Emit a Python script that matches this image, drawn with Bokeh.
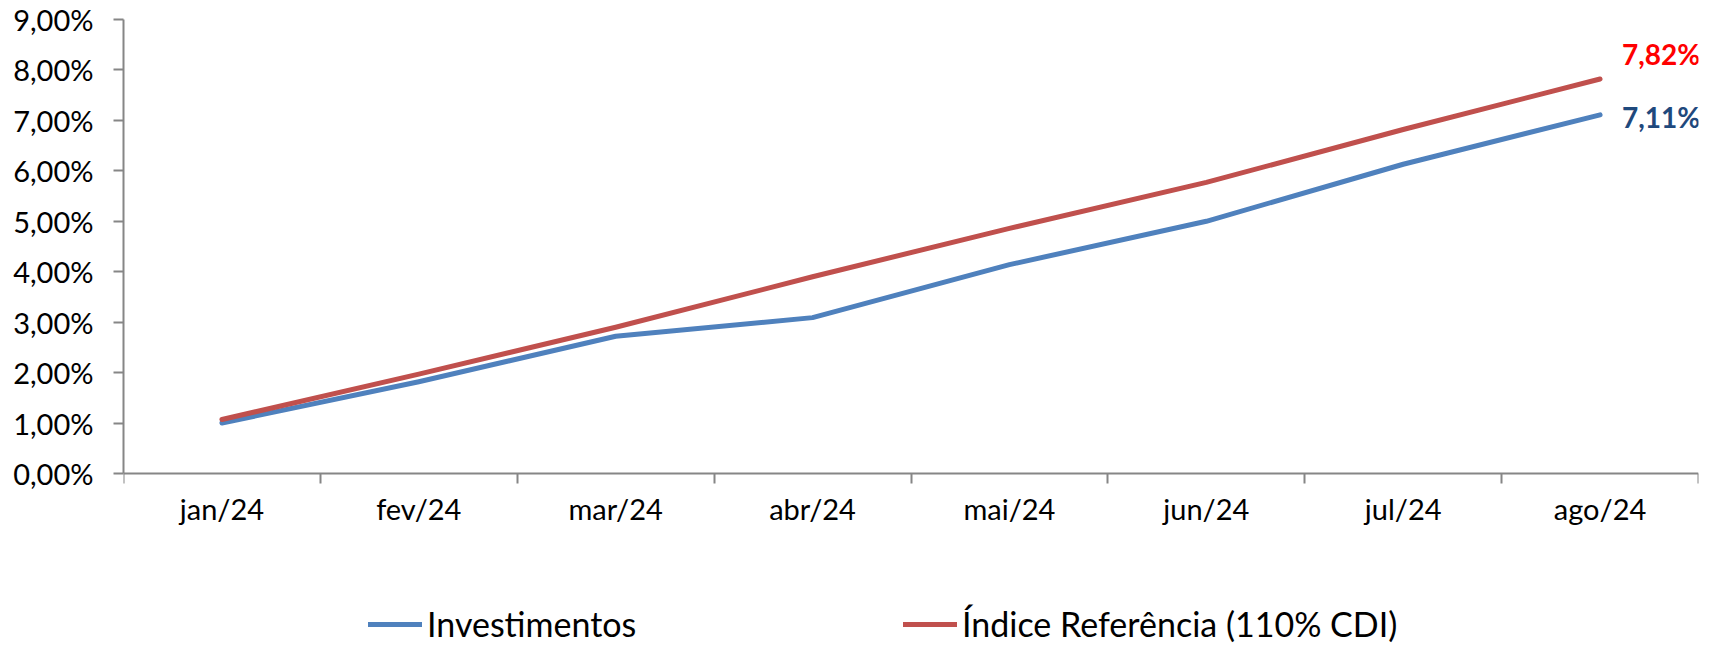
from bokeh.plotting import figure
from bokeh.models import (ColumnDataSource, FixedTicker, CustomJSTickFormatter, Range1d,
                          Legend, LegendItem, LabelSet)
from bokeh.core.properties import value
from bokeh.embed import file_html
from bokeh.resources import INLINE

months = ["jan/24", "fev/24", "mar/24", "abr/24", "mai/24", "jun/24", "jul/24", "ago/24"]
investimentos = [0.0100, 0.0182, 0.0272, 0.0309, 0.0414, 0.0500, 0.0613, 0.0711]
indice_ref = [0.0107, 0.0197, 0.0290, 0.0390, 0.0486, 0.0577, 0.0682, 0.0782]
y_ticks = [0.00, 0.01, 0.02, 0.03, 0.04, 0.05, 0.06, 0.07, 0.08, 0.09]
series_names = ["Investimentos", "Índice Referência (110% CDI)"]

BLUE = "#4F81BD"
RED = "#C0504D"
AXIS = "#868686"
FONT = "Lato"

W, H = 1723, 645
TOP, BOTTOM_AXIS, LEFT, RIGHT_PAD = 19, 473, 123, 25
# frame reaches the canvas bottom so the legend can sit inside it (layout only)
y_per_px = (y_ticks[-1] - y_ticks[0]) / (BOTTOM_AXIS - TOP)
y_start = y_ticks[0] - (H - BOTTOM_AXIS) * y_per_px

xs = [i + 0.5 for i in range(len(months))]
src = ColumnDataSource(dict(x=xs, inv=investimentos, ref=indice_ref))

p = figure(width=W, height=H, output_backend="svg", toolbar_location=None,
           x_range=Range1d(0, len(months)), y_range=Range1d(y_start, y_ticks[-1]),
           min_border_left=LEFT, min_border_right=RIGHT_PAD, min_border_top=TOP,
           min_border_bottom=0)
p.outline_line_color = None
p.grid.visible = False
p.background_fill_color = "white"
p.border_fill_color = "white"

r_inv = p.line("x", "inv", source=src, line_color=BLUE, line_width=5, line_cap="round", line_join="round")
r_ref = p.line("x", "ref", source=src, line_color=RED, line_width=5, line_cap="round", line_join="round")

p.xaxis.fixed_location = 0
p.xaxis.ticker = FixedTicker(ticks=xs, minor_ticks=list(range(len(months) + 1)))
p.xaxis.major_label_overrides = {x: m for x, m in zip(xs, months)}
p.xaxis.major_tick_out = 0
p.xaxis.major_tick_in = 0
p.xaxis.minor_tick_out = 10
p.xaxis.minor_tick_in = 0
p.xaxis.minor_tick_line_color = AXIS
p.xaxis.minor_tick_line_width = 2
p.xaxis.axis_line_color = AXIS
p.xaxis.axis_line_width = 2
p.xaxis.major_label_text_font = FONT
p.xaxis.major_label_text_font_size = "29px"
p.xaxis.major_label_text_color = "black"
p.xaxis.major_label_standoff = 7

p.yaxis.ticker = FixedTicker(ticks=y_ticks)
p.yaxis.bounds = (y_ticks[0], y_ticks[-1])
p.yaxis.formatter = CustomJSTickFormatter(code="return (tick*100).toFixed(2).replace('.', ',') + '%';")
p.yaxis.major_tick_out = 10
p.yaxis.major_tick_in = 0
p.yaxis.minor_tick_line_color = None
p.yaxis.major_tick_line_color = AXIS
p.yaxis.major_tick_line_width = 2
p.yaxis.axis_line_color = AXIS
p.yaxis.axis_line_width = 2
p.yaxis.major_label_text_font = FONT
p.yaxis.major_label_text_font_size = "29px"
p.yaxis.major_label_text_color = "black"
p.yaxis.major_label_standoff = 20

last = len(months) - 1
lbl_src = ColumnDataSource(dict(
    x=[xs[last], xs[last]],
    y=[indice_ref[last], investimentos[last]],
    text=[f"{indice_ref[last]*100:.2f}".replace(".", ",") + "%",
          f"{investimentos[last]*100:.2f}".replace(".", ",") + "%"],
    color=["#FF0000", "#1F497D"],
    yoff=[25, -2],
))
labels = LabelSet(x="x", y="y", text="text", source=lbl_src, x_offset=22, y_offset="yoff",
                  text_color="color", text_font=value(FONT), text_font_style="bold",
                  text_font_size="28px", text_baseline="middle", text_align="left")
p.add_layout(labels)

for renderer, name, xloc in [(r_inv, series_names[0], 245), (r_ref, series_names[1], 780)]:
    leg = Legend(items=[LegendItem(label=name, renderers=[renderer])],
                 location=(xloc, 1), orientation="horizontal",
                 padding=0, margin=0, spacing=0, border_line_color=None,
                 background_fill_alpha=0, glyph_width=54, glyph_height=34,
                 label_standoff=5, label_text_font=FONT, label_text_font_size="34px",
                 label_text_color="black", label_height=34)
    p.add_layout(leg, "center")

open("out.html", "w").write(file_html(p, INLINE))
